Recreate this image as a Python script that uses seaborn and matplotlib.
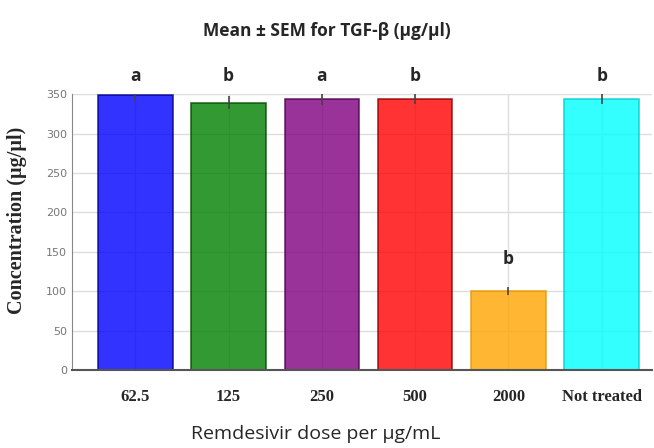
import numpy as np
import pandas as pd
import seaborn as sns
import matplotlib
matplotlib.use("Agg")
import matplotlib.pyplot as plt

doses = ["62.5", "125", "250", "500", "2000", "Not treated"]
means = [349, 339, 344, 344, 100, 344]
sems = [8, 8, 8, 7, 5, 7]
letters = ["a", "b", "a", "b", "b", "b"]
bar_colors = ["#0000ff", "#008000", "#800080", "#ff0000", "#ffa500", "#00ffff"]
edge_colors = ["#00008b", "#004d00", "#4d004d", "#8b0000", "#e69500", "#00cccc"]

df = pd.DataFrame({"dose": doses, "conc": means})

sns.set_style("white")
fig = plt.figure(figsize=(6.54, 4.48), dpi=100)
ax = fig.add_axes([0.110, 0.174, 0.887, 0.616])

sns.barplot(data=df, x="dose", y="conc", hue="dose", palette=bar_colors,
            legend=False, width=0.8, alpha=0.8, saturation=1, ax=ax, zorder=2)
for p, ec in zip(ax.patches, edge_colors):
    p.set_edgecolor(ec)
    p.set_linewidth(1.2)

xs = np.arange(len(doses))
ax.errorbar(xs, means, yerr=sems, fmt="none", ecolor="#444444", elinewidth=1.2,
            capsize=0, zorder=3)

# letters sit on a common line above the tall bars, higher above the short one
top = max(m + s for m, s in zip(means, sems))
for x, m, s, l in zip(xs, means, sems, letters):
    ly = top + 5 if m > 200 else m + s + 24
    ax.text(x, ly, l, ha="center", va="bottom", fontsize=12.5, fontweight="bold",
            family="Open Sans", clip_on=False)

ax.set_ylim(0, 350)
ax.set_xlim(-0.68, 5.54)
ax.set_yticks(range(0, 351, 50))
ax.grid(True, color="#dddddd", linewidth=1, zorder=0)
ax.set_axisbelow(True)
for s in ["top", "right"]:
    ax.spines[s].set_visible(False)
ax.spines["left"].set_color("#888888")
ax.spines["bottom"].set_color("#555555")
ax.spines["bottom"].set_linewidth(1.5)
ax.tick_params(axis="y", direction="in", length=3, color="#888888",
               labelsize=8, labelcolor="#777777")
ax.tick_params(axis="x", length=0, pad=14)
for t in ax.get_xticklabels():
    t.set_family("Liberation Serif")
    t.set_fontweight("bold")
    t.set_fontsize(12)

ax.set_xlabel("Remdesivir dose per µg/mL", fontsize=14, family="Open Sans")
ax.xaxis.set_label_coords(0.42, -0.2)
ax.set_ylabel("Concentration (µg/µl)", fontsize=14.5, family="Liberation Serif",
              fontweight="bold")
ax.yaxis.set_label_coords(-0.078, 0.543)
fig.suptitle("Mean ± SEM for TGF-β (µg/µl)", fontsize=12.5, fontweight="bold",
             family="Open Sans", y=0.95)

fig.savefig("out.png", dpi=100)
